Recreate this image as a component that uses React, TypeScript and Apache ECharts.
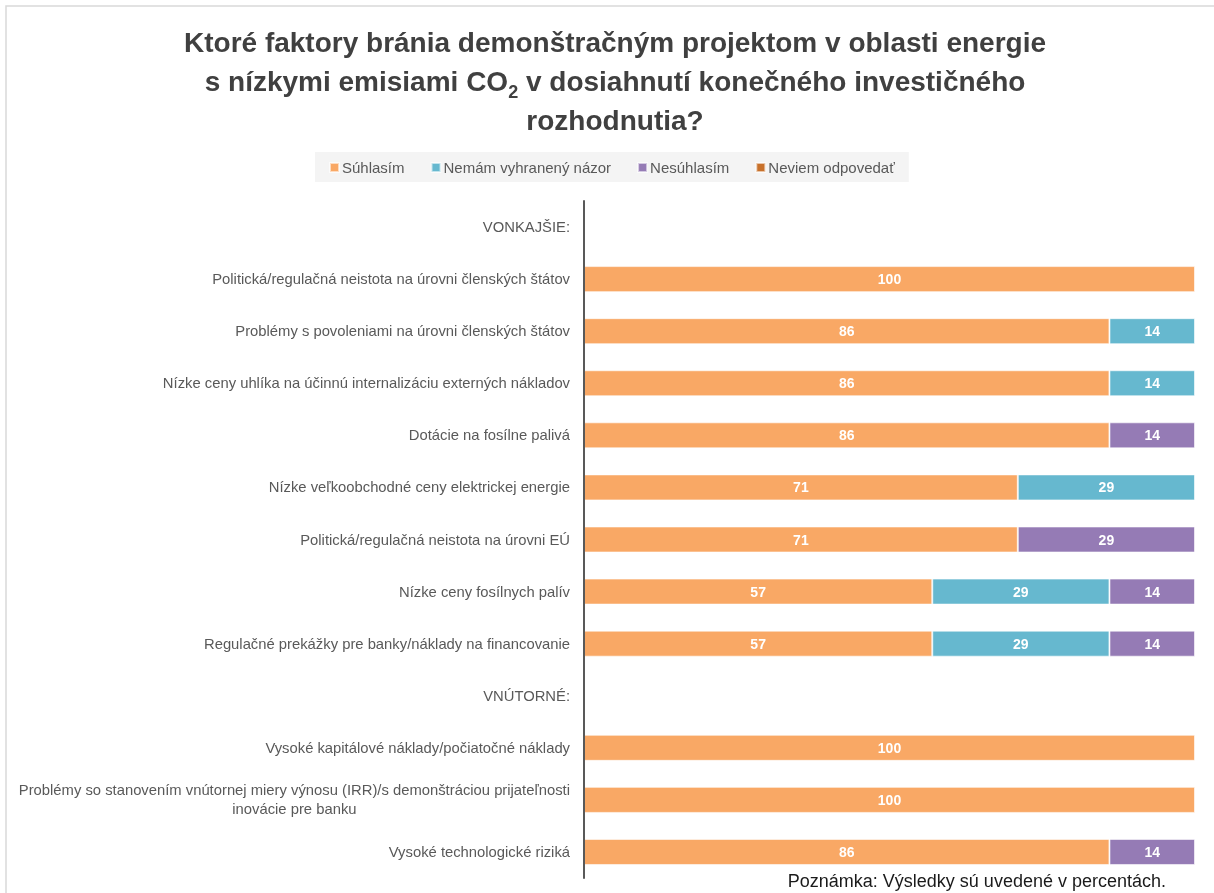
import React, { useEffect, useRef } from "react";
import * as echarts from "echarts";

const categories = [
  "VONKAJŠIE:",
  "Politická/regulačná neistota na úrovni členských štátov",
  "Problémy s povoleniami na úrovni členských štátov",
  "Nízke ceny uhlíka na účinnú internalizáciu externých nákladov",
  "Dotácie na fosílne palivá",
  "Nízke veľkoobchodné ceny elektrickej energie",
  "Politická/regulačná neistota na úrovni EÚ",
  "Nízke ceny fosílnych palív",
  "Regulačné prekážky pre banky/náklady na financovanie",
  "VNÚTORNÉ:",
  "Vysoké kapitálové náklady/počiatočné náklady",
  "Problémy so stanovením vnútornej miery výnosu (IRR)/s demonštráciou prijateľnosti\ninovácie pre banku",
  "Vysoké technologické riziká",
];

const seriesNames = ["Súhlasím", "Nemám vyhranený názor", "Nesúhlasím", "Neviem odpovedať"];
const suhlasim = [0, 100, 86, 86, 86, 71, 71, 57, 57, 0, 100, 100, 86];
const nemam = [0, 0, 14, 14, 0, 29, 0, 29, 29, 0, 0, 0, 0];
const nesuhlasim = [0, 0, 0, 0, 14, 0, 29, 14, 14, 0, 0, 0, 14];
const neviem = [0, 0, 0, 0, 0, 0, 0, 0, 0, 0, 0, 0, 0];
const colors = ["#F9A865", "#66B8CF", "#957BB5", "#C8712B"];

const titleLines = [
  "Ktoré faktory bránia demonštračným projektom v oblasti energie",
  "s nízkymi emisiami CO{sub|2} v dosiahnutí konečného investičného",
  "rozhodnutia?",
];
const note = "Poznámka: Výsledky sú uvedené v percentách.";

const FONT = "'Liberation Sans', Arial, sans-serif";

export default function App() {
  const ref = useRef<HTMLDivElement>(null);
  useEffect(() => {
    if (!ref.current) return;
    const chart = echarts.init(ref.current, null, { renderer: "svg" });
    const data = [suhlasim, nemam, nesuhlasim, neviem];
    chart.setOption({
      animation: false,
      textStyle: { fontFamily: FONT },
      title: {
        text: titleLines.join("\n"),
        left: 610,
        textAlign: "center",
        top: 18,
        textStyle: {
          fontFamily: FONT,
          fontSize: 28,
          fontWeight: "bold",
          color: "#404040",
          lineHeight: 39,
          rich: {
            sub: {
              fontFamily: FONT,
              fontSize: 18,
              fontWeight: "bold",
              color: "#404040",
              verticalAlign: "bottom",
              lineHeight: 25,
            },
          },
        },
      },
      legend: {
        data: seriesNames,
        left: 315,
        top: 152,
        itemWidth: 9,
        itemHeight: 9,
        itemGap: 26,
        icon: "rect",
        backgroundColor: "#F4F4F4",
        padding: [8, 14, 7, 14],
        textStyle: { fontFamily: FONT, fontSize: 15, color: "#595959", padding: [0, 0, 0, -2] },
      },
      graphic: [
        {
          type: "rect",
          shape: { x: 6, y: 6, width: 1220, height: 900 },
          style: { fill: "none", stroke: "#D9D9D9", lineWidth: 1.5 },
          silent: true,
        },
        {
          type: "text",
          right: 48,
          top: 872,
          style: { text: note, fontFamily: FONT, fontSize: 18, fill: "#1a1a1a" },
        },
      ],
      grid: { left: 584, right: 19, top: 201, bottom: 15 },
      xAxis: {
        type: "value",
        min: 0,
        max: 100,
        show: false,
      },
      yAxis: {
        type: "category",
        inverse: true,
        data: categories,
        z: 5,
        axisLine: { show: true, lineStyle: { color: "#595959", width: 2 } },
        axisTick: { show: false },
        axisLabel: {
          margin: 14,
          fontFamily: FONT,
          fontSize: 14.8,
          color: "#595959",
          lineHeight: 19,
          formatter: (v: string) =>
            v
              .split("\n")
              .map((l) => `{c|${l}}`)
              .join("\n"),
          rich: { c: { align: "center", fontFamily: FONT, fontSize: 14.8, color: "#595959", lineHeight: 19 } },
        },
      },
      series: seriesNames.map((name, i) => ({
        name,
        type: "bar",
        stack: "total",
        barWidth: "50%",
        data: data[i].map((v) => (v === 0 ? null : v)),
        itemStyle: { color: colors[i], borderColor: "rgba(255,255,255,0.6)", borderWidth: 1 },
        label: {
          show: true,
          position: "inside",
          color: "#FFFFFF",
          fontWeight: "bold",
          fontFamily: FONT,
          fontSize: 14,
          formatter: (p: any) => (p.value ? String(p.value) : ""),
        },
      })),
    });
    return () => chart.dispose();
  }, []);
  return <div ref={ref} style={{ position: "fixed", left: 0, top: 0, width: 1214, height: 893 }} />;
}
